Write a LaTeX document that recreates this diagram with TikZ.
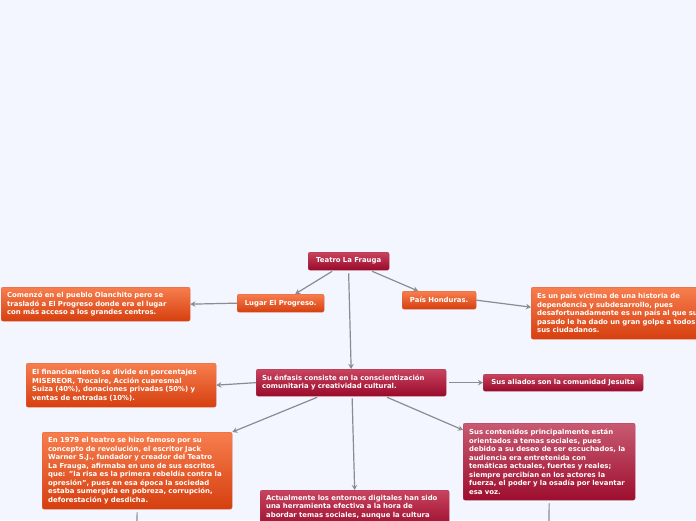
\documentclass[tikz,border=0pt]{standalone}
\usepackage{fontspec}
\setmainfont{DejaVu Sans}
\usetikzlibrary{arrows.meta,calc}
\definecolor{bgc}{HTML}{F3F6FE}
\definecolor{ortop}{HTML}{F77E4E}
\definecolor{orbot}{HTML}{D63F0F}
\definecolor{crtop}{HTML}{C8445F}
\definecolor{crbot}{HTML}{990A2B}
\definecolor{pktop}{HTML}{C85A72}
\definecolor{pkbot}{HTML}{9E0E2E}
\definecolor{lnc}{HTML}{8A8C90}
\newcommand{\dq}{\char"0022\relax}
\tikzset{
  box/.style={anchor=north west, rounded corners=2pt, text=white,
    font=\fontsize{6.9}{8.5}\selectfont\bfseries, inner xsep=6pt, inner ysep=4.6pt,
    align=left},
  orng/.style={box, top color=ortop, bottom color=orbot, draw=orbot!80!white, line width=0.3pt},
  crim/.style={box, top color=crtop, bottom color=crbot, draw=crbot!80!white, line width=0.3pt},
  pink/.style={box, top color=pktop, bottom color=pkbot, draw=pkbot!80!white, line width=0.3pt},
  conn/.style={draw=lnc, line width=1.2pt, -{Stealth[length=5pt,width=5.5pt]}},
  plain/.style={draw=lnc, line width=1.2pt}
}
\begin{document}
\begin{tikzpicture}[x=1pt,y=-1pt]
\fill[bgc] (0,0) rectangle (696,520);
\useasboundingbox (0,0) rectangle (696,520);
\clip (0,0) rectangle (696,520);

\node[crim, text width=69pt, align=center, minimum height=18pt] (teatro) at (308,252) {Teatro La Frauga};
\node[orng, text width=75pt, align=center, minimum height=18pt] (lugar) at (237,294) {Lugar El Progreso.};
\node[orng, text width=62pt, align=center, minimum height=18pt] (pais) at (402,291) {País Honduras.};

\node[orng, text width=177pt, minimum height=34pt] (comenzo) at (1,287) {Comenzó en el pueblo Olanchito pero se\\trasladó a El Progreso donde era el lugar\\con más acceso a los grandes centros.};
\node[orng, text width=190pt, minimum height=52pt] (esun) at (531,287) {Es un país víctima de una historia de\\dependencia y subdesarrollo, pues\\desafortunadamente es un país al que su\\pasado le ha dado un gran golpe a todos\\sus ciudadanos.};

\node[orng, text width=178pt, minimum height=44pt] (finan) at (26,363) {El financiamiento se divide en porcentajes\\MISEREOR, Trocaire, Acción cuaresmal\\Suiza (40\%), donaciones privadas (50\%) y\\ventas de entradas (10\%).};
\node[crim, text width=178pt, minimum height=27pt] (enfasis) at (256,369) {Su énfasis consiste en la conscientización\\comunitaria y creatividad cultural.};
\node[crim, text width=148pt, align=center, minimum height=17pt] (aliados) at (483,374) {Sus aliados son la comunidad Jesuita};

\node[orng, text width=178pt, minimum height=77pt] (anio) at (42,432) {En 1979 el teatro se hizo famoso por su\\concepto de revolución, el escritor Jack\\Warner S.J., fundador y creador del Teatro\\La Frauga, afirmaba en uno de sus escritos\\que: \dq{}la risa es la primera rebeldía contra la\\opresión\dq{}, pues en esa época la sociedad\\estaba sumergida en pobreza, corrupción,\\deforestación y desdicha.};
\node[crim, text width=177pt, minimum height=40pt, anchor=north west] (actual) at (260,490) {Actualmente los entornos digitales han sido\\una herramienta efectiva a la hora de\\abordar temas sociales, aunque la cultura\\\mbox{}};
\node[pink, text width=160pt, minimum height=77pt] (conten) at (463,423) {Sus contenidos principalmente están\\orientados a temas sociales, pues\\debido a su deseo de ser escuchados, la\\audiencia era entretenida con\\temáticas actuales, fuertes y reales;\\siempre percibían en los actores la\\fuerza, el poder y la osadía por levantar\\esa voz.};

\coordinate (bl) at (137,521);
\coordinate (br) at (549,521);

\draw[conn] ([xshift=-16.5pt,yshift=-1pt]teatro.south) -- ([xshift=14.5pt]lugar.north);
\draw[conn] ([xshift=23.5pt,yshift=-1pt]teatro.south) -- ([xshift=-21pt]pais.north);
\draw[conn] ([yshift=-3pt]teatro.south) -- (enfasis.north);
\draw[conn] (lugar.west) -- (comenzo.east);
\draw[conn] (pais.east) -- ([yshift=6pt]esun.west);
\draw[conn] (enfasis.west) -- (finan.east);
\draw[conn] ([xshift=3pt]enfasis.east) -- (aliados.west);
\draw[conn] ([xshift=-34pt,yshift=-1pt]enfasis.south) -- (anio.north east);
\draw[conn] ([xshift=1pt,yshift=-2pt]enfasis.south) -- (actual.north);
\draw[conn] ([xshift=36pt,yshift=-1pt]enfasis.south) -- ([yshift=-7pt]conten.north west);
\draw[plain] ([yshift=-3pt]anio.south) -- (bl);
\draw[plain] ([yshift=-3pt]conten.south) -- (br);
\end{tikzpicture}
\end{document}
